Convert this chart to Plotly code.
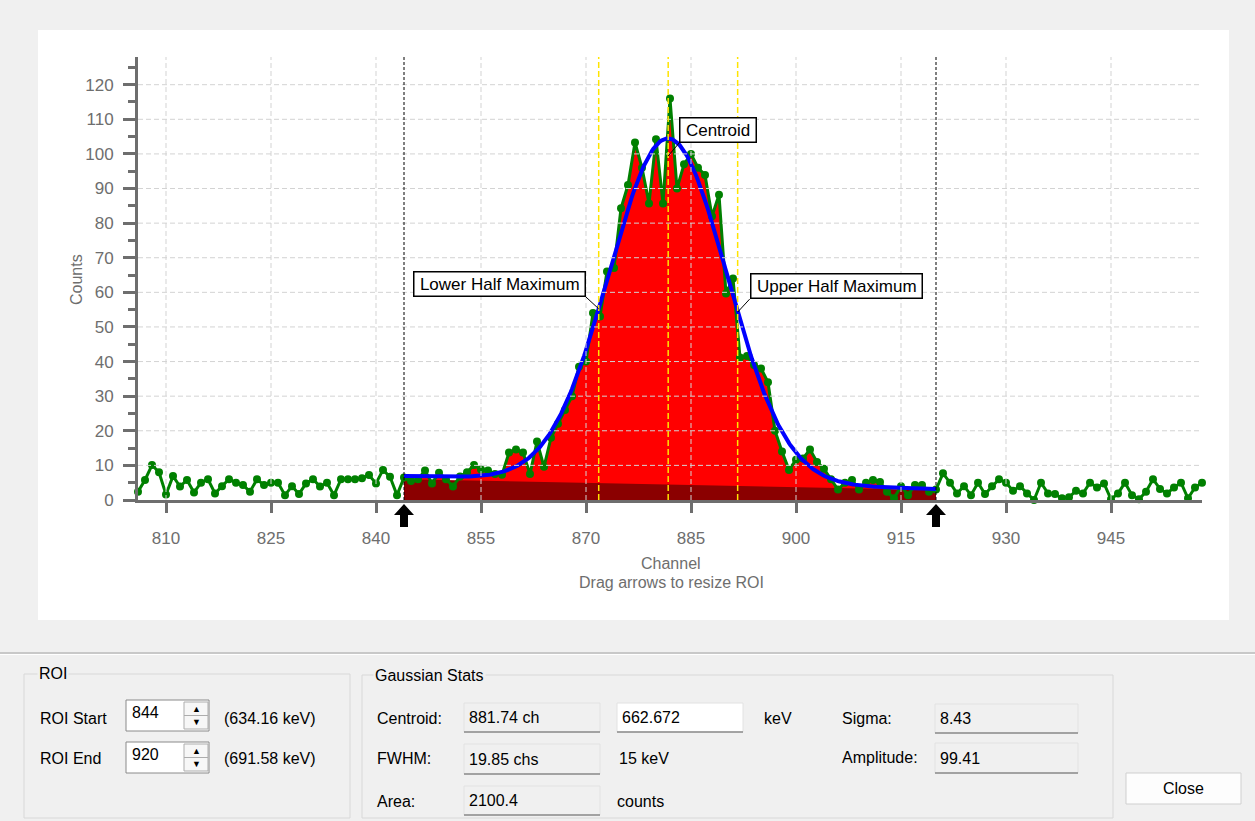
import numpy as np
import plotly.graph_objects as go

# ---- spectrum data -------------------------------------------------------
channels = list(range(806, 959))
counts = [
    2.4, 5.8, 10.1, 8.0, 1.6, 6.9, 3.9, 5.8, 2.2, 5.0,        # 806-815
    6.0, 1.9, 4.0, 6.0, 5.0, 4.3, 2.4, 6.0, 4.3, 5.0,         # 816-825
    5.0, 1.4, 4.0, 1.7, 4.8, 6.0, 3.9, 5.0, 1.4, 6.0,         # 826-835
    6.0, 6.0, 6.3, 7.2, 4.8, 8.7, 6.7, 1.4, 6.5, 5.5,         # 836-845
    6.0, 8.5, 4.8, 7.9, 6.0, 3.9, 6.8, 8.0, 10.1, 8.8,        # 846-855
    8.5, 7.5, 7.3, 13.7, 14.6, 13.7, 7.5, 16.9, 9.6, 18.0,    # 856-865
    22.0, 26.0, 30.0, 38.5, 40.0, 54.0, 53.0, 66.0, 67.0, 84.3,   # 866-875
    91.0, 103.3, 96.0, 85.7, 104.2, 85.7, 116.0, 90.0, 97.0, 100.0,  # 876-885
    96.0, 93.9, 82.0, 88.2, 59.7, 64.0, 41.2, 41.6, 39.0, 38.0,   # 886-895
    34.0, 20.0, 14.0, 8.7, 11.6, 12.0, 14.6, 11.0, 9.0, 6.0,  # 896-905
    3.0, 5.0, 5.8, 3.0, 5.0, 5.8, 5.2, 2.4, 0.5, 4.0,         # 906-915
    1.4, 4.3, 4.3, 2.4, 3.0, 7.7, 5.0, 1.9, 4.0, 1.4,         # 916-925
    5.0, 1.7, 4.0, 6.0, 5.0, 2.7, 4.0, 1.9, 0.0, 5.0,         # 926-935
    1.9, 1.7, 0.5, 0.8, 2.7, 1.9, 5.0, 3.6, 4.8, 0.2,         # 936-945
    1.9, 5.0, 1.4, 0.2, 2.4, 6.0, 3.2, 1.9, 3.6, 5.0,         # 946-955
    0.5, 3.6, 5.0,                                            # 956-958
]

# ---- region of interest and Gaussian fit results ------------------------
roi_start, roi_end = 844, 920
roi_start_kev, roi_end_kev = "634.16", "691.58"
centroid = 881.74
centroid_kev = "662.672"
sigma = 8.43
amplitude = 99.41
fwhm = 19.85
fwhm_kev = "15"
area = "2100.4"
fit_bg = [6.9, 3.2]     # linear background under the fit (start, end of ROI)
roi_bg = [6.0, 2.9]     # ROI baseline (start, end of ROI)

x_range = [806, 958]
y_range = [0, 128]
x_ticks = list(range(810, 946, 15))
y_ticks = list(range(0, 121, 10))
y_minor = list(range(5, 126, 10))

# ---- derived series ------------------------------------------------------
roi_ch = [c for c in channels if roi_start <= c <= roi_end]
roi_counts = [v for c, v in zip(channels, counts) if roi_start <= c <= roi_end]


def lin(ends, x):
    return ends[0] + (ends[1] - ends[0]) * (np.asarray(x, float) - roi_start) / (roi_end - roi_start)


def fit(x):
    x = np.asarray(x, float)
    return lin(fit_bg, x) + amplitude * np.exp(-(x - centroid) ** 2 / (2 * sigma ** 2))


roi_base = lin(roi_bg, roi_ch)
xf = np.linspace(roi_start, roi_end, 400)
yf = fit(xf)
lower_hm = centroid - fwhm / 2
upper_hm = centroid + fwhm / 2

# ---- figure geometry -----------------------------------------------------
W, H = 1255, 821
ML, MR, MT, MB = 138, 53, 57, 321
PW, PH = W - ML - MR, H - MT - MB
FONT = "Liberation Sans"
AXC = "#6e6e6e"


def fx(px):
    return (px - ML) / PW


def fy(py):
    return (H - MB - py) / PH


fig = go.Figure()
fig.add_trace(go.Scatter(x=roi_ch, y=roi_counts, mode="lines", fill="tozeroy",
                         fillcolor="#FF0000", line=dict(width=0, color="#FF0000"),
                         hoverinfo="skip", showlegend=False))
fig.add_trace(go.Scatter(x=roi_ch, y=roi_base, mode="lines", fill="tozeroy",
                         fillcolor="#8B0000", line=dict(width=0, color="#8B0000"),
                         hoverinfo="skip", showlegend=False))
fig.add_trace(go.Scatter(x=channels, y=counts, mode="lines+markers",
                         line=dict(color="#008000", width=3),
                         marker=dict(color="#008000", size=8),
                         cliponaxis=False, showlegend=False))
fig.add_trace(go.Scatter(x=xf, y=yf, mode="lines",
                         line=dict(color="#0000FF", width=4), showlegend=False))

shapes = []
# window background panels
shapes.append(dict(type="rect", xref="paper", yref="paper", x0=fx(38), x1=fx(1229),
                   y0=fy(620), y1=fy(30), fillcolor="white", line=dict(width=0), layer="below"))
shapes.append(dict(type="line", xref="paper", yref="paper", x0=fx(0), x1=fx(W),
                   y0=fy(653), y1=fy(653), line=dict(color="#A0A0A0", width=1)))
shapes.append(dict(type="line", xref="paper", yref="paper", x0=fx(0), x1=fx(W),
                   y0=fy(654.5), y1=fy(654.5), line=dict(color="#FFFFFF", width=1)))

# grid
for xv in x_ticks:
    shapes.append(dict(type="line", xref="x", yref="paper", x0=xv, x1=xv, y0=0, y1=1,
                       line=dict(color="#D3D3D3", width=1, dash="5px,3px"), layer="above"))
for yv in y_ticks[1:]:
    shapes.append(dict(type="line", xref="paper", yref="y", x0=0, x1=1, y0=yv, y1=yv,
                       line=dict(color="#D3D3D3", width=1, dash="5px,3px"), layer="above"))

# ROI limits and half-maximum / centroid markers
for xv in (roi_start, roi_end):
    shapes.append(dict(type="line", xref="x", yref="paper", x0=xv, x1=xv, y0=0, y1=1,
                       line=dict(color="black", width=1, dash="3px,2px"), layer="above"))
for xv in (lower_hm, centroid, upper_hm):
    shapes.append(dict(type="line", xref="x", yref="paper", x0=xv, x1=xv, y0=0, y1=1,
                       line=dict(color="#FFE400", width=1.5, dash="6px,3px"), layer="above"))

# draggable ROI handles
handle = "M0,-4 L10,-15 L4,-15 L4,-27 L-4,-27 L-4,-15 L-10,-15 Z"
for xv in (roi_start, roi_end):
    shapes.append(dict(type="path", xref="x", yref="paper", xsizemode="pixel", ysizemode="pixel",
                       xanchor=xv, yanchor=0, path=handle, fillcolor="black",
                       line=dict(width=0), layer="above"))


def rect(x0, y0, x1, y1, fill, line="#D5D5D5", lw=1):
    shapes.append(dict(type="rect", xref="paper", yref="paper", x0=fx(x0), x1=fx(x1),
                       y0=fy(y1), y1=fy(y0), fillcolor=fill,
                       line=dict(color=line, width=lw), layer="above"))


def hline(x0, x1, y, color, lw=1):
    shapes.append(dict(type="line", xref="paper", yref="paper", x0=fx(x0), x1=fx(x1),
                       y0=fy(y), y1=fy(y), line=dict(color=color, width=lw), layer="above"))


annotations = []


def txt(x, y, s, size=16, color="#000000", xanchor="left", bg=None, **kw):
    a = dict(xref="paper", yref="paper", x=fx(x), y=fy(y), text=s, showarrow=False,
             xanchor=xanchor, yanchor="middle", font=dict(family=FONT, size=size, color=color))
    if bg:
        a.update(bgcolor=bg, borderpad=1)
    a.update(kw)
    annotations.append(a)


def readonly_box(x0, y0, x1, y1, value):
    rect(x0, y0, x1, y1, "#F0F0F0", "#E2E2E2", 1)
    hline(x0, x1, y1, "#8A8A8A", 1.5)
    txt(x0 + 3, (y0 + y1) / 2, value)


def spin_box(x0, y0, x1, y1, value):
    rect(x0, y0, x1, y1, "white", "#8A8A8A", 1)
    rect(x1 - 25, y0 + 2, x1 - 1, y1 - 2, "#F7F7F7", "#ADADAD", 1)
    hline(x1 - 25, x1 - 1, (y0 + y1) / 2, "#ADADAD", 1)
    txt(x1 - 13, y0 + 9, "▲", size=9, xanchor="center")
    txt(x1 - 13, y1 - 9, "▼", size=9, xanchor="center")
    txt(x0 + 4, (y0 + y1) / 2 - 3, value)


# ROI group
rect(24, 674, 350, 818, "rgba(0,0,0,0)", "#D8D8D8", 1)
txt(37, 673, "ROI", bg="#F0F0F0")
txt(38, 718, "ROI Start")
spin_box(126, 700, 209, 731, str(roi_start))
txt(222, 718, f"({roi_start_kev} keV)")
txt(38, 758, "ROI End")
spin_box(126, 742, 209, 773, str(roi_end))
txt(222, 758, f"({roi_end_kev} keV)")

# Gaussian stats group
rect(362, 675, 1113, 818, "rgba(0,0,0,0)", "#D8D8D8", 1)
txt(373, 675, "Gaussian Stats", bg="#F0F0F0")
txt(375, 718, "Centroid:")
readonly_box(464, 703, 600, 732, f"{centroid} ch")
rect(617, 703, 743, 732, "white", "#E2E2E2", 1)
hline(617, 743, 732, "#8A8A8A", 1.5)
txt(620, 717.5, centroid_kev)
txt(762, 718, "keV")
txt(375, 758, "FWHM:")
readonly_box(464, 744, 600, 774, f"{fwhm} chs")
txt(617, 758, f"{fwhm_kev} keV")
txt(375, 801, "Area:")
readonly_box(464, 786, 600, 815, area)
txt(615, 801, "counts")
txt(840, 718, "Sigma:")
readonly_box(935, 704, 1078, 733, f"{sigma}")
txt(840, 757, "Amplitude:")
readonly_box(935, 743, 1078, 773, f"{amplitude}")

# Close button
rect(1126, 773, 1241, 804, "#FDFDFD", "#CFCFCF", 1)
txt(1183.5, 789, "Close", xanchor="center")

# axis titles
txt(76, 280, "Counts", color=AXC, xanchor="center", textangle=-90)
txt(671, 563, "Channel", color=AXC, xanchor="center")
txt(671, 582, "Drag arrows to resize ROI", color=AXC, xanchor="center")

# fit markers
TS = "\u2009"
box = dict(showarrow=True, arrowhead=0, arrowwidth=1, arrowcolor="black",
           bgcolor="white", bordercolor="black", borderwidth=1.5, borderpad=2,
           font=dict(family=FONT, size=17, color="black"), yanchor="bottom",
           xref="x", yref="y")
annotations.append(dict(box, x=centroid, y=amplitude, text=f"{TS}Centroid{TS}",
                        ax=11, ay=-13, xanchor="left"))
annotations.append(dict(box, x=lower_hm, y=float(fit(lower_hm)), text=f"{TS}Lower Half Maximum{TS}",
                        ax=-13, ay=-12, xanchor="right"))
annotations.append(dict(box, x=upper_hm, y=float(fit(upper_hm)), text=f"{TS}Upper Half Maximum{TS}",
                        ax=12, ay=-13, xanchor="left"))

axis_common = dict(showline=True, linewidth=3, linecolor=AXC, ticks="outside",
                   tickwidth=3, tickcolor=AXC, showgrid=False, zeroline=False,
                   tickfont=dict(family=FONT, size=17, color=AXC), fixedrange=True)

fig.update_layout(
    width=W, height=H, autosize=False,
    margin=dict(l=ML, r=MR, t=MT, b=MB, pad=0),
    paper_bgcolor="#F0F0F0", plot_bgcolor="rgba(0,0,0,0)",
    showlegend=False,
    xaxis=dict(axis_common, range=x_range, tickvals=x_ticks, ticklen=10,
               ticklabelstandoff=11),
    yaxis=dict(axis_common, range=y_range, tickvals=y_ticks, ticklen=12,
               ticklabelstandoff=6,
               minor=dict(tickvals=y_minor, ticklen=7, tickwidth=3, tickcolor=AXC,
                          ticks="outside", showgrid=False)),
    shapes=shapes,
    annotations=annotations,
)

fig.write_html("out.html")
